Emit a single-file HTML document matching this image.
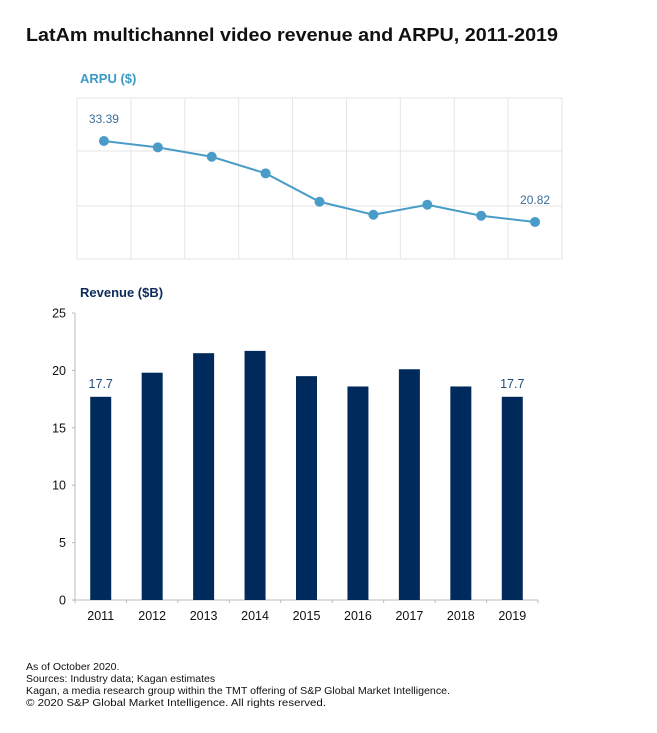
<!DOCTYPE html>
<html><head><meta charset="utf-8"><style>
html,body{margin:0;padding:0;background:#fff;}
svg{display:block;font-family:"Liberation Sans",sans-serif;}
</style></head><body>
<svg id="chart" width="657" height="733" viewBox="0 0 657 733">
<text x="26" y="41" font-size="18" font-weight="bold" fill="#111" textLength="532" lengthAdjust="spacingAndGlyphs">LatAm multichannel video revenue and ARPU, 2011-2019</text>
<text x="80" y="83" font-size="13" font-weight="bold" fill="#3b9ac6">ARPU ($)</text>
<g id="arpu"></g>
<text x="80" y="297" font-size="13" font-weight="bold" fill="#0d2a5c">Revenue ($B)</text>
<g id="rev"></g>
<g font-size="10.5" fill="#111">
<text x="26" y="670">As of October 2020.</text>
<text x="26" y="682">Sources: Industry data; Kagan estimates</text>
<text x="26" y="694" textLength="424" lengthAdjust="spacingAndGlyphs">Kagan, a media research group within the TMT offering of S&amp;P Global Market Intelligence.</text>
<text x="26" y="706" textLength="300" lengthAdjust="spacingAndGlyphs">© 2020 S&amp;P Global Market Intelligence. All rights reserved.</text>
</g>
</svg>
<script>
const years = ["2011","2012","2013","2014","2015","2016","2017","2018","2019"];
const arpuValues = [33.39,32.41,30.95,28.37,23.96,21.94,23.50,21.79,20.82];
const revenueValues = [17.7,19.8,21.5,21.7,19.5,18.6,20.1,18.6,17.7];
const revenueTicks = [0,5,10,15,20,25];
const NS="http://www.w3.org/2000/svg";
function mk(tag,attrs,parent){const e=document.createElementNS(NS,tag);for(const k in attrs)e.setAttribute(k,attrs[k]);parent.appendChild(e);return e;}

// ARPU
const ag=document.getElementById('arpu');
const aL=77,aR=562,aT=98,aB=259,aMin=15.07,aMax=40.07;
const aColW=(aR-aL)/years.length;
const ax=i=>aL+aColW*(i+0.5);
const ay=v=>aB-(v-aMin)/(aMax-aMin)*(aB-aT);
for(let i=1;i<years.length;i++){
  const l=mk('line',{x1:aL+aColW*i,x2:aL+aColW*i,y1:aT,y2:aB,stroke:'#e6e6e6','stroke-width':1},ag);
  
  
}
[151,206].forEach(y=>{
  const l=mk('line',{x1:aL,x2:aR,y1:y,y2:y,stroke:'#e6e6e6','stroke-width':1},ag);
  
  
});
const box=mk('rect',{x:aL,y:aT,width:aR-aL,height:aB-aT,fill:'none',stroke:'#e6e6e6','stroke-width':1},ag);


const pl=mk('polyline',{points:arpuValues.map((v,i)=>ax(i)+','+ay(v)).join(' '),fill:'none',stroke:'#4a9cc8','stroke-width':2},ag);


arpuValues.forEach((v,i)=>{
  const c=mk('circle',{cx:ax(i),cy:ay(v),r:5,fill:'#4a9cc8'},ag);
  
  
});
[0,years.length-1].forEach(i=>{
  const t=mk('text',{x:ax(i),y:ay(arpuValues[i])-18,'text-anchor':'middle','font-size':12,fill:'#3d6f98'},ag);
  t.textContent=arpuValues[i].toFixed(2);
  
  
});

// Revenue
const rg=document.getElementById('rev');
const rL=75,rR=538,rT=313,rB=600,rMax=25;
const rColW=(rR-rL)/years.length;
const rx=i=>rL+rColW*(i+0.5);
const ry=v=>rB-v/rMax*(rB-rT);
const yax=mk('line',{x1:rL,x2:rL,y1:rT,y2:rB,stroke:'#bbb'},rg);


const xax=mk('line',{x1:rL,x2:rR,y1:rB,y2:rB,stroke:'#bbb'},rg);


revenueTicks.forEach(t=>{
  const tk=mk('line',{x1:rL-3,x2:rL,y1:ry(t),y2:ry(t),stroke:'#bbb'},rg);
  
  
  const tx=mk('text',{x:66,y:ry(t)+4.5,'text-anchor':'end','font-size':12.5,fill:'#111'},rg);
  tx.textContent=t;
  
  
});
for(let i=0;i<=years.length;i++){
  const tk=mk('line',{x1:rL+rColW*i,x2:rL+rColW*i,y1:rB,y2:rB+3,stroke:'#bbb'},rg);
  
  
}
revenueValues.forEach((v,i)=>{
  const b=mk('rect',{x:rx(i)-10.5,y:ry(v),width:21,height:rB-ry(v),fill:'#002a5c'},rg);
  
  
  const t=mk('text',{x:rx(i),y:620,'text-anchor':'middle','font-size':12.5,fill:'#111'},rg);
  t.textContent=years[i];
  
  
});
[0,years.length-1].forEach(i=>{
  const t=mk('text',{x:rx(i),y:ry(revenueValues[i])-9,'text-anchor':'middle','font-size':12.5,fill:'#1f4a7c'},rg);
  t.textContent=revenueValues[i].toFixed(1);
  
  
});
</script>
</body></html>
